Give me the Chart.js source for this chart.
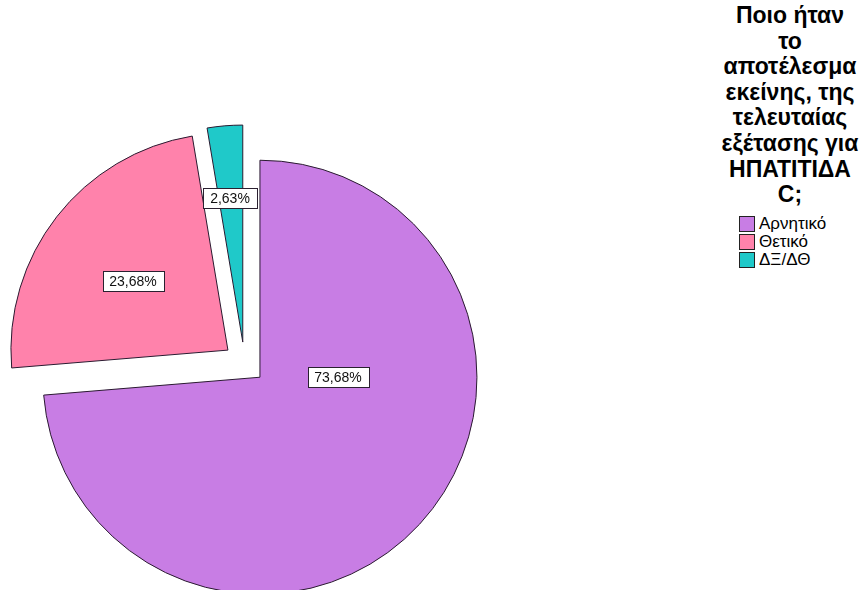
<!DOCTYPE html>
<html>
<head>
<meta charset="utf-8">
<script src="https://cdn.jsdelivr.net/npm/chart.js@4/dist/chart.umd.min.js"></script>
<style>
  html, body { margin: 0; padding: 0; background: #fff; overflow: hidden; width: 860px; height: 590px; }
  #pieBox { position: absolute; left: 0; top: 0; width: 489px; height: 726px; }
  #legend { position: absolute; left: 720px; top: 3px; width: 140px; font-family: 'Liberation Sans', Arial, sans-serif; color: #000; white-space: nowrap; }
  #legend .title { font-weight: bold; font-size: 23px; line-height: 25.6px; text-align: center; }
  #legend ul { list-style: none; margin: 7px 0 0 19px; padding: 0; }
  #legend li { display: flex; align-items: center; height: 18px; font-size: 17px; }
  #legend .sw { width: 14px; height: 14px; border: 1px solid #222; margin-right: 4px; }
</style>
</head>
<body>
<div id="pieBox"><canvas id="pie"></canvas></div>
<div id="legend"></div>
<script>
// Chart data
const CATEGORIES = ['Αρνητικό', 'Θετικό', 'ΔΞ/ΔΘ'];
const PERCENTS = [73.68, 23.68, 2.63];
const COLORS = ['#C87DE4', '#FF82AB', '#1FC9C9'];
const TITLE_LINES = ['Ποιο ήταν', 'το', 'αποτέλεσμα', 'εκείνης, της', 'τελευταίας', 'εξέτασης για', 'ΗΠΑΤΙΤΙΔΑ', 'C;'];

/**
 * Draws every slice pushed out along its middle angle (equal radius for all).
 */
const explodePlugin = {
  id: 'explode',
  beforeDatasetDraw(chart, args, opts) {
    const ctx = chart.ctx;
    args.meta.data.forEach(arc => {
      const mid = (arc.startAngle + arc.endAngle) / 2;
      ctx.save();
      ctx.translate(Math.cos(mid) * opts.distance, Math.sin(mid) * opts.distance);
      arc.draw(ctx);
      ctx.restore();
    });
    return false;
  }
};

/**
 * Boxed percentage labels, SPSS style.
 */
const sliceLabelPlugin = {
  id: 'sliceLabels',
  afterDatasetsDraw(chart, args, opts) {
    const ctx = chart.ctx;
    const meta = chart.getDatasetMeta(0);
    const d = chart.options.plugins.explode.distance;
    ctx.save();
    ctx.font = opts.font;
    ctx.textAlign = 'center';
    ctx.textBaseline = 'middle';
    meta.data.forEach((arc, i) => {
      const mid = (arc.startAngle + arc.endAngle) / 2;
      const vx = arc.x + Math.cos(mid) * d;
      const vy = arc.y + Math.sin(mid) * d;
      const a = opts.anchors[i];
      const ang = (a.angle - 90) * Math.PI / 180;
      const x = vx + Math.cos(ang) * a.r * arc.outerRadius;
      const y = vy + Math.sin(ang) * a.r * arc.outerRadius;
      const text = chart.data.datasets[0].data[i].toFixed(2).replace('.', ',') + '%';
      const w = Math.round(ctx.measureText(text).width) + 14;
      const h = 20;
      const bx = Math.round(x - w / 2) + 0.5;
      const by = Math.round(y - h / 2) + 0.5;
      ctx.fillStyle = '#fff';
      ctx.fillRect(bx, by, w, h);
      ctx.strokeStyle = '#2a2030';
      ctx.lineWidth = 1;
      ctx.strokeRect(bx, by, w, h);
      ctx.fillStyle = '#111';
      ctx.fillText(text, Math.round(x), Math.round(y) + 1);
    });
    ctx.restore();
  }
};

const chart = new Chart(document.getElementById('pie'), {
  type: 'pie',
  data: {
    labels: CATEGORIES,
    datasets: [{
      data: PERCENTS,
      backgroundColor: COLORS,
      borderColor: '#2a1a30',
      borderWidth: 1,
      borderJoinStyle: 'miter'
    }]
  },
  options: {
    responsive: true,
    maintainAspectRatio: false,
    animation: false,
    events: [],
    radius: 217,
    layout: { padding: 0 },
    plugins: {
      legend: { display: false },
      tooltip: { enabled: false },
      explode: { distance: 21 },
      sliceLabels: {
        font: '14px "Liberation Sans", Arial, sans-serif',
        anchors: [{ angle: 90, r: 0.36 }, { angle: 306, r: 0.54 }, { angle: 355, r: 0.665 }]
      }
    }
  },
  plugins: [explodePlugin, sliceLabelPlugin]
});

// HTML legend built from the chart's own legend items
function buildLegend(chart) {
  const box = document.getElementById('legend');
  const title = document.createElement('div');
  title.className = 'title';
  TITLE_LINES.forEach(line => {
    const row = document.createElement('div');
    row.textContent = line;
    title.appendChild(row);
  });
  box.appendChild(title);
  const list = document.createElement('ul');
  const items = Chart.overrides.pie.plugins.legend.labels.generateLabels(chart);
  items.forEach(item => {
    const li = document.createElement('li');
    const sw = document.createElement('span');
    sw.className = 'sw';
    sw.style.background = item.fillStyle;
    li.appendChild(sw);
    li.appendChild(document.createTextNode(item.text));
    list.appendChild(li);
  });
  box.appendChild(list);
}
buildLegend(chart);
</script>
</body>
</html>
